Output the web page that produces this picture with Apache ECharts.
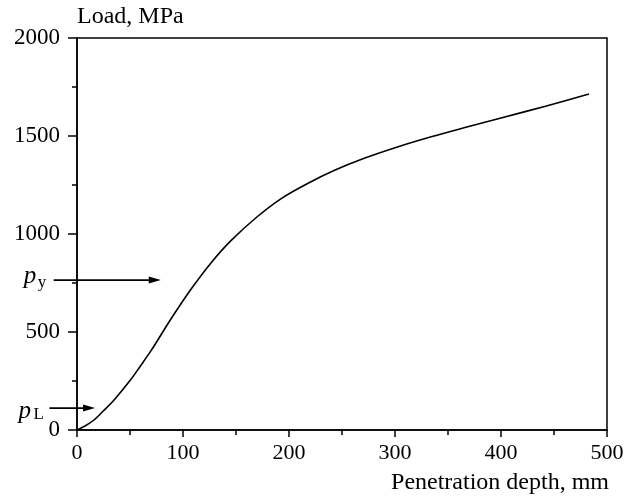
<!DOCTYPE html>
<html><head><meta charset="utf-8">
<script src="https://cdn.jsdelivr.net/npm/echarts@6/dist/echarts.min.js"></script>
<style>html,body{margin:0;padding:0;background:#fff}#c{width:628px;height:499px}</style>
</head><body><div id="c"></div>
<script>
var depth = [0, 8, 16, 25, 35, 50, 60, 70, 88, 107, 126, 145, 170, 193, 218, 243, 271, 303, 335, 366, 400, 442, 483];
var load  = [0, 22, 51, 98, 153, 252, 328, 406, 561, 714, 850, 965, 1088, 1182, 1259, 1325, 1386, 1445, 1497, 1543, 1592, 1652, 1714];
var xTicks = [0, 100, 200, 300, 400, 500];
var yTicks = [0, 500, 1000, 1500, 2000];
var arrowNames = ['L', 'y'];
var arrowLoads = [112, 765];
var arrowFrom = [-26, -22];
var arrowTo = [17, 79];

var FONT = '"Liberation Serif", "DejaVu Serif", serif';
var chart = echarts.init(document.getElementById('c'), null, {renderer: 'canvas'});
var pts = depth.map(function (d, i) { return [d, load[i]]; });
chart.setOption({
  animation: false,
  backgroundColor: '#fff',
  grid: {left: 77, right: 21, top: 38, bottom: 69, show: true, borderColor: '#000', borderWidth: 1.5, backgroundColor: 'transparent'},
  xAxis: {
    type: 'value', min: xTicks[0], max: xTicks[xTicks.length - 1], interval: 100,
    name: 'Penetration depth, mm', nameLocation: 'end', nameGap: 2,
    nameTextStyle: {fontFamily: FONT, fontSize: 24, color: '#000', align: 'right', verticalAlign: 'top', padding: [41, 0, 0, 0]},
    axisLine: {show: true, onZero: false, lineStyle: {color: '#000', width: 1.5}},
    axisTick: {show: true, inside: false, length: 7, lineStyle: {color: '#000', width: 1.5}},
    minorTick: {show: true, splitNumber: 2, length: 5, lineStyle: {color: '#000', width: 1.5}},
    axisLabel: {fontFamily: FONT, fontSize: 22, color: '#000', margin: 12, formatter: function (v) { return String(v); }},
    splitLine: {show: false}
  },
  yAxis: {
    type: 'value', min: yTicks[0], max: yTicks[yTicks.length - 1], interval: 500,
    name: 'Load, MPa', nameLocation: 'end', nameGap: 9,
    nameTextStyle: {fontFamily: FONT, fontSize: 24, color: '#000', align: 'left'},
    axisLine: {show: true, onZero: false, lineStyle: {color: '#000', width: 1.5}},
    axisTick: {show: true, inside: false, length: 9, lineStyle: {color: '#000', width: 1.5}},
    minorTick: {show: true, splitNumber: 2, length: 5, lineStyle: {color: '#000', width: 1.5}},
    axisLabel: {fontFamily: FONT, fontSize: 23, color: '#000', margin: 17, formatter: function (v) { return String(v); }},
    splitLine: {show: false}
  },
  series: [{
    type: 'line', data: pts, smooth: 0.3, symbol: 'none',
    lineStyle: {color: '#000', width: 1.6}
  }]
});

// label offsets: [pDx, pBaseDy, subDx, subBaseDy] relative to arrow start
var labelOffsets = [[-31, 10, -16, 11], [-30, 3, -16, 7]];
var g = [];
for (var i = 0; i < arrowNames.length; i++) {
  var p1 = chart.convertToPixel({gridIndex: 0}, [arrowFrom[i], arrowLoads[i]]);
  var p2 = chart.convertToPixel({gridIndex: 0}, [arrowTo[i], arrowLoads[i]]);
  var o = labelOffsets[i];
  g.push({type: 'line', shape: {x1: p1[0], y1: p1[1], x2: p2[0] - 6, y2: p2[1]}, style: {stroke: '#000', lineWidth: 1.8}, z: 10});
  g.push({type: 'polygon', shape: {points: [[p2[0], p2[1]], [p2[0] - 12, p2[1] - 3.5], [p2[0] - 12, p2[1] + 3.5]]}, style: {fill: '#000'}, z: 10});
  g.push({type: 'text', x: p1[0] + o[0], y: p1[1] + o[1] - 7, z: 10,
    style: {text: 'p', font: 'italic 25px ' + FONT, fill: '#000', verticalAlign: 'middle', align: 'left'}});
  g.push({type: 'text', x: p1[0] + o[2], y: p1[1] + o[3] - 5, z: 10,
    style: {text: arrowNames[i], font: '17px ' + FONT, fill: '#000', verticalAlign: 'middle', align: 'left'}});
}
chart.setOption({graphic: g});
</script></body></html>
